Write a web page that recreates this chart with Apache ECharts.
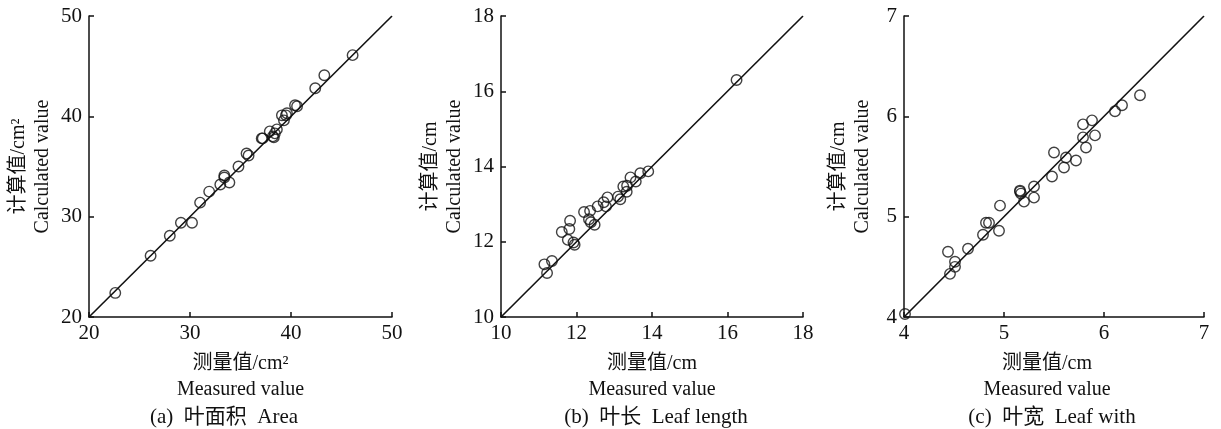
<!DOCTYPE html>
<html>
<head>
<meta charset="UTF-8">
<title>计算值与测量值</title>
<script src="https://cdn.jsdelivr.net/npm/echarts@6/dist/echarts.min.js"></script>
<style>
  html, body { margin: 0; padding: 0; background: #fff; }
  #main { width: 1221px; height: 429px; }
</style>
</head>
<body>
<div id="main"></div>
<script>
// (a) 叶面积 Area: [measured, calculated]
var areaPts = [
  [22.6, 22.4], [26.1, 26.1], [28.0, 28.1], [29.1, 29.4], [30.2, 29.4],
  [31.0, 31.4], [31.9, 32.5], [33.0, 33.2], [33.4, 34.1], [33.4, 33.9],
  [33.9, 33.4], [34.8, 35.0], [35.6, 36.3], [35.8, 36.1], [37.1, 37.8],
  [37.2, 37.8], [37.9, 38.5], [38.2, 38.0], [38.4, 38.3], [38.6, 38.7],
  [38.3, 37.9], [39.3, 39.6], [39.5, 40.1], [39.6, 40.3], [39.1, 40.1],
  [40.4, 41.1], [40.6, 41.0], [42.4, 42.8], [43.3, 44.1], [46.1, 46.1]
];
// (b) 叶长 Leaf length
var lengthPts = [
  [11.15, 11.40], [11.35, 11.49], [11.22, 11.17], [11.61, 12.26], [11.83, 12.56],
  [11.81, 12.34], [11.77, 12.05], [11.92, 11.98], [11.95, 11.92], [12.20, 12.79],
  [12.36, 12.82], [12.33, 12.60], [12.38, 12.52], [12.48, 12.45], [12.56, 12.94],
  [12.72, 13.05], [12.82, 13.18], [12.78, 12.94], [13.10, 13.20], [13.16, 13.13],
  [13.24, 13.47], [13.34, 13.49], [13.33, 13.33], [13.43, 13.71], [13.57, 13.60],
  [13.69, 13.82], [13.90, 13.87], [16.24, 16.30]
];
// (c) 叶宽 Leaf with
var widthPts = [
  [4.01, 4.03], [4.44, 4.65], [4.46, 4.43], [4.51, 4.55], [4.51, 4.50],
  [4.64, 4.68], [4.79, 4.82], [4.82, 4.94], [4.85, 4.94], [4.95, 4.86],
  [4.96, 5.11], [5.16, 5.26], [5.17, 5.23], [5.16, 5.25], [5.20, 5.15],
  [5.30, 5.30], [5.30, 5.19], [5.48, 5.40], [5.50, 5.64], [5.60, 5.49],
  [5.62, 5.59], [5.72, 5.56], [5.79, 5.79], [5.79, 5.92], [5.82, 5.69],
  [5.88, 5.96], [5.91, 5.81], [6.11, 6.05], [6.18, 6.11], [6.36, 6.21]
];

// axis ranges [min, max, interval]
var areaAxis = [20, 50, 10];
var lengthAxis = [10, 18, 2];
var widthAxis = [4, 7, 1];

var xNames = ['测量值/cm²\nMeasured value', '测量值/cm\nMeasured value', '测量值/cm\nMeasured value'];
var yNames = ['计算值/cm²\nCalculated value', '计算值/cm\nCalculated value', '计算值/cm\nCalculated value'];
var captions = ['(a)  叶面积  Area', '(b)  叶长  Leaf length', '(c)  叶宽  Leaf with'];
var captionX = [219, 651, 1047];

var FONT = '"Liberation Serif", "Noto Sans CJK SC", serif';
var grids = [
  { left: 89, top: 16, width: 303, height: 301 },
  { left: 501, top: 16, width: 302, height: 301 },
  { left: 904, top: 16, width: 300, height: 301 }
];
var yGaps = [34, 34, 29];
var ranges = [areaAxis, lengthAxis, widthAxis];
var pts = [areaPts, lengthPts, widthPts];

function axisOf(r, i, name, isX) {
  return {
    type: 'value', gridIndex: i,
    min: r[0], max: r[1], interval: r[2],
    name: name, nameLocation: 'middle',
    nameGap: isX ? 34 : yGaps[i],
    nameTextStyle: {
      fontFamily: FONT, fontSize: 20, color: '#111',
      lineHeight: isX ? 26 : 24,
      padding: (isX && i === 2) ? [0, 14, 0, 0] : 0
    },
    axisLine: { show: true, lineStyle: { color: '#111', width: 1.5 } },
    axisTick: { show: true, inside: true, length: 5, lineStyle: { color: '#111', width: 1.5 } },
    axisLabel: { fontFamily: FONT, fontSize: 21, color: '#111', margin: isX ? 6 : 7 },
    splitLine: { show: false }
  };
}

var xAxis = [], yAxis = [], series = [], title = [];
for (var i = 0; i < 3; i++) {
  var r = ranges[i];
  xAxis.push(axisOf(r, i, xNames[i], true));
  yAxis.push(axisOf(r, i, yNames[i], false));
  series.push({
    type: 'line', xAxisIndex: i, yAxisIndex: i,
    data: [[r[0], r[0]], [r[1], r[1]]],
    symbol: 'none', silent: true,
    lineStyle: { color: '#111', width: 1.6 }
  });
  series.push({
    type: 'scatter', xAxisIndex: i, yAxisIndex: i,
    data: pts[i], symbol: 'circle', symbolSize: 10.5,
    itemStyle: { color: 'rgba(0,0,0,0)', borderColor: '#111', borderWidth: 1.4 }
  });
  title.push({
    text: captions[i],
    left: captionX[i], top: 402, textAlign: 'center',
    textStyle: { fontFamily: FONT, fontSize: 21, fontWeight: 'normal', color: '#111' }
  });
}

var chart = echarts.init(document.getElementById('main'));
chart.setOption({
  backgroundColor: '#fff',
  animation: false,
  title: title,
  grid: grids,
  xAxis: xAxis,
  yAxis: yAxis,
  series: series
});
</script>
</body>
</html>
